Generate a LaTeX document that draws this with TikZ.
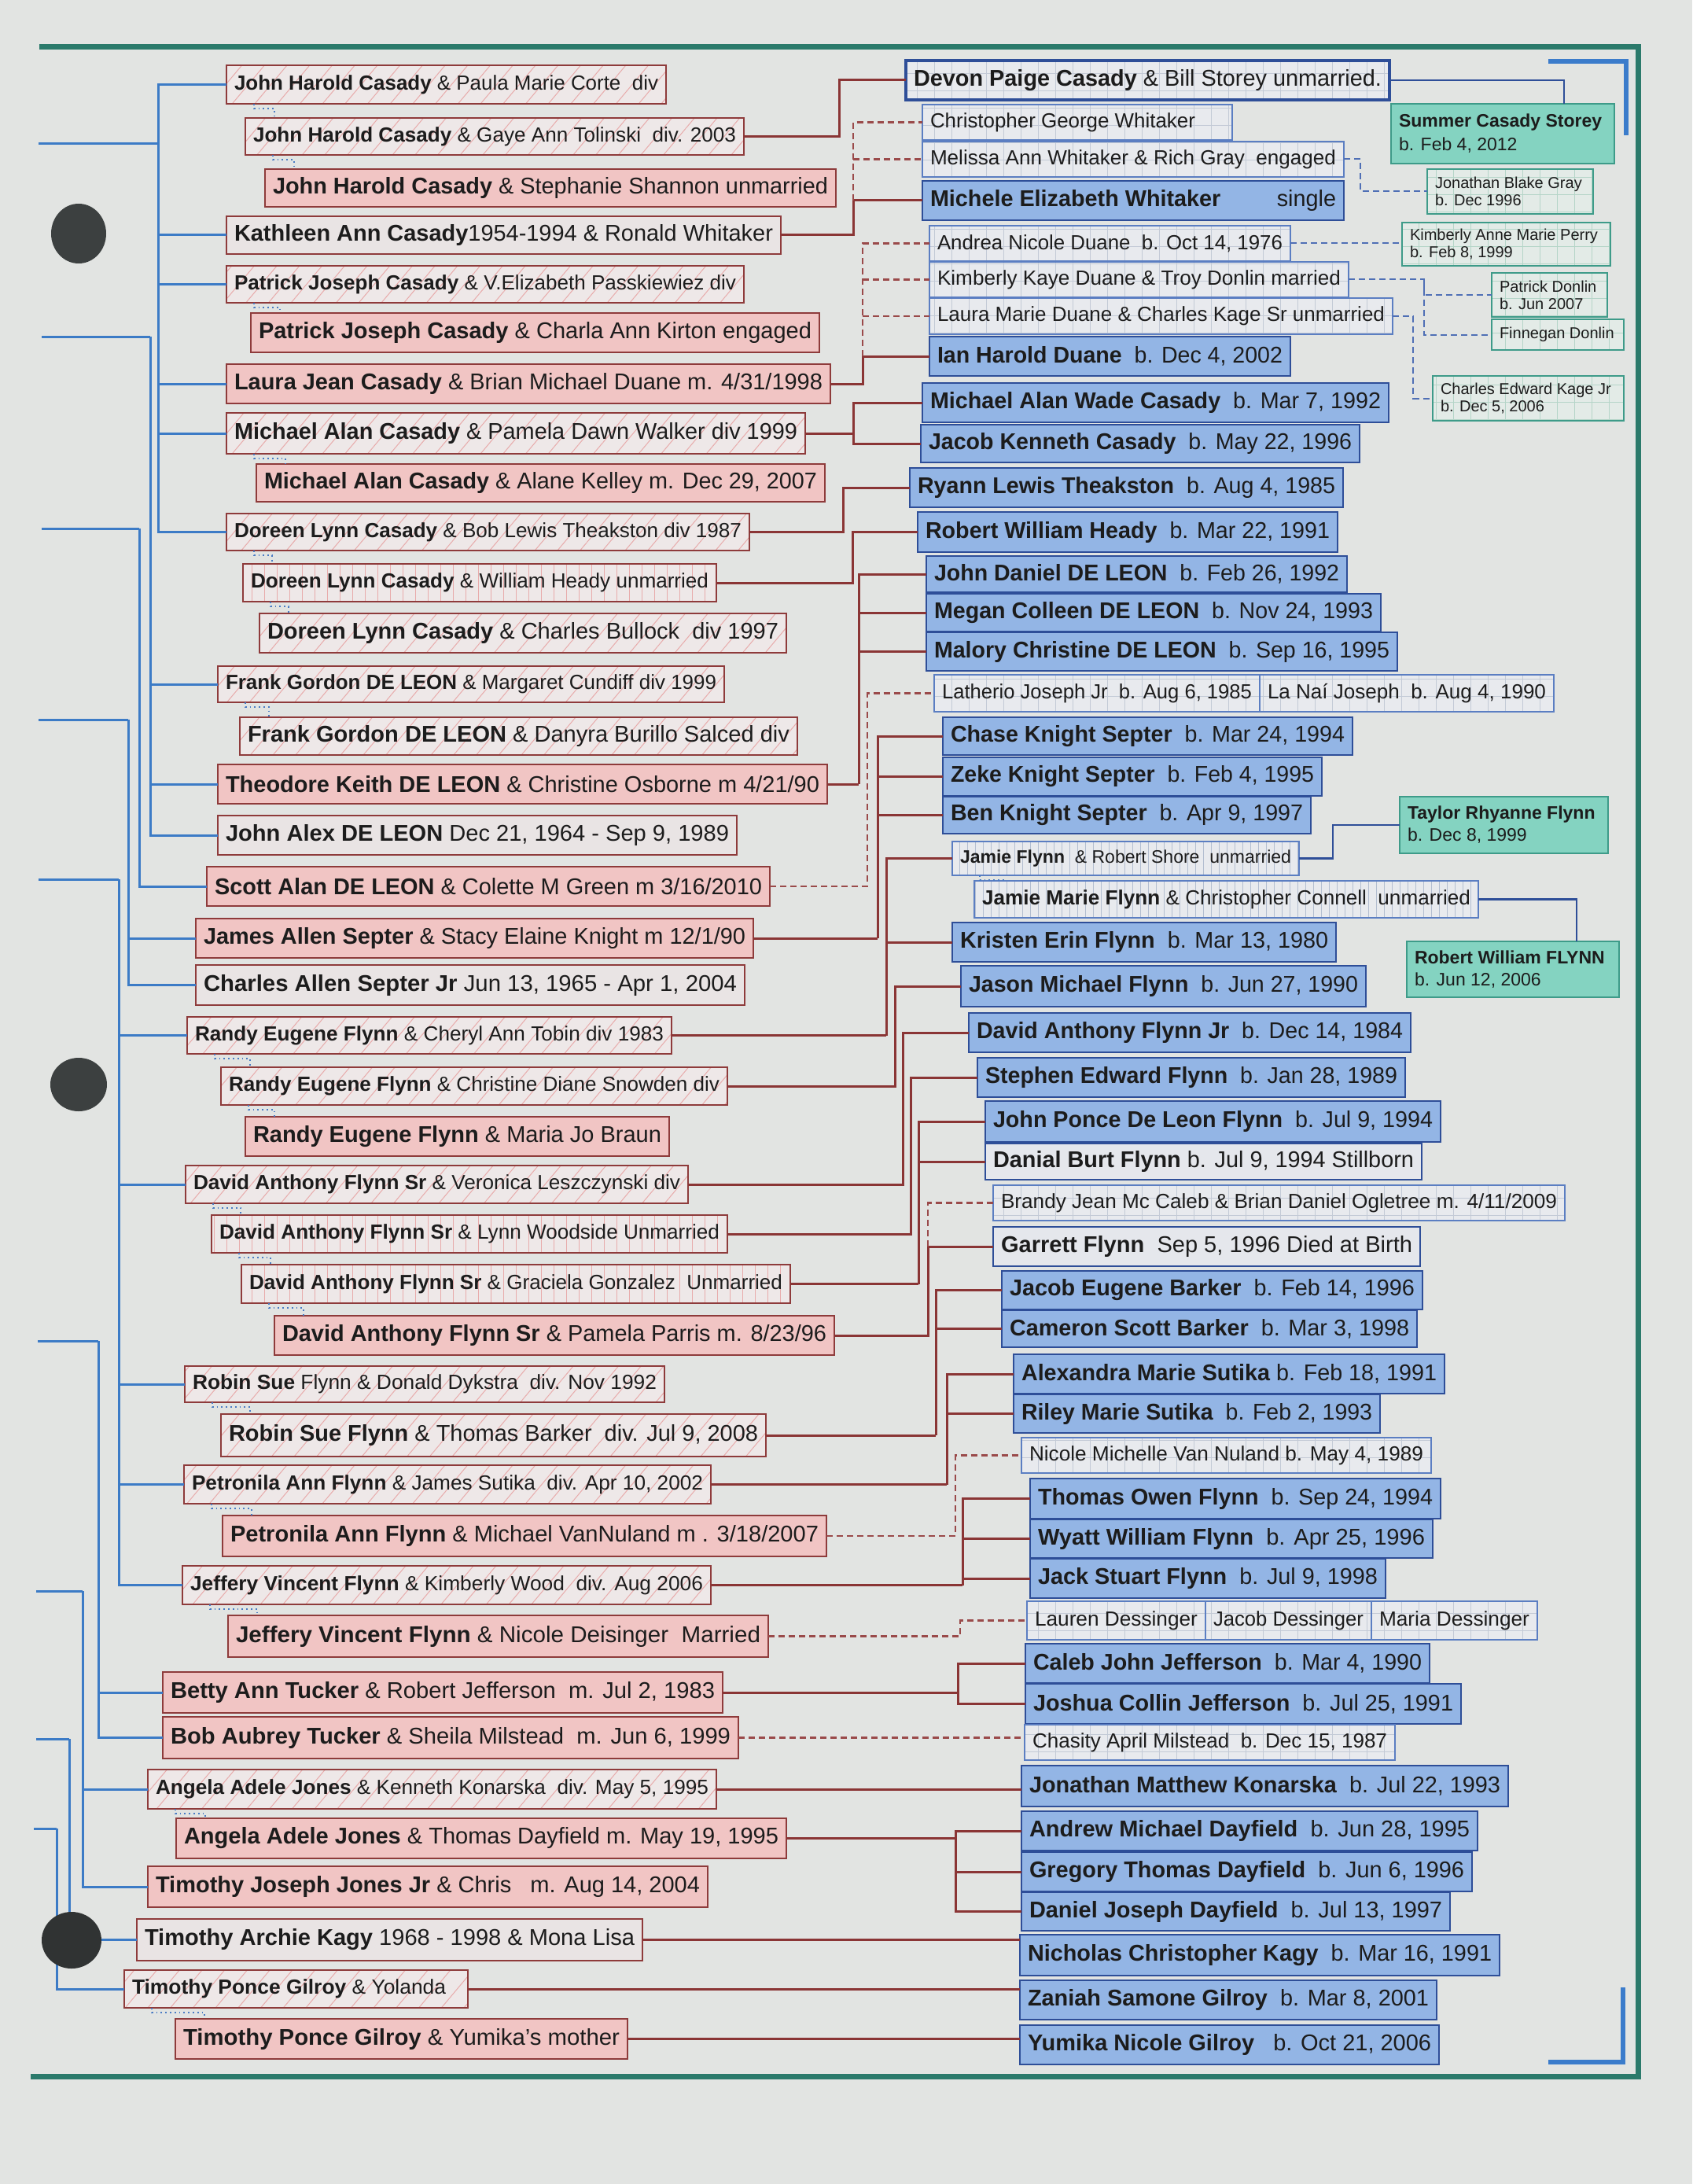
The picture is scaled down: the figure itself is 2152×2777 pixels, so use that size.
\documentclass[tikz,border=0pt]{standalone}
\usepackage{fontspec}
\setmainfont{Liberation Sans}
\usepackage{graphicx}
\usetikzlibrary{patterns.meta}
\definecolor{pagebg}{HTML}{E2E4E2}
\definecolor{framec}{HTML}{2B7A6B}
\definecolor{bracketc}{HTML}{3B7CCB}
\definecolor{treeblue}{HTML}{3C7BC6}
\definecolor{linered}{HTML}{8A3535}
\definecolor{dashred}{HTML}{9A4A4A}
\definecolor{boxred}{HTML}{8E3B3B}
\definecolor{hatchbg}{HTML}{EEE8E8}
\definecolor{hatchred}{HTML}{E8ABAB}
\definecolor{pinkfill}{HTML}{F1C5C4}
\definecolor{grayfill}{HTML}{E9E4E4}
\definecolor{bluefill}{HTML}{93B5E5}
\definecolor{blueborder}{HTML}{2E4E98}
\definecolor{lightfill}{HTML}{E5E7EC}
\definecolor{gridfill}{HTML}{E8EAEE}
\definecolor{gridline}{HTML}{C3CAD6}
\definecolor{gridborder}{HTML}{5B7EC2}
\definecolor{loopline}{HTML}{B3BED0}
\definecolor{greenfill}{HTML}{84D3C1}
\definecolor{greenborder}{HTML}{3E9B89}
\definecolor{ggfill}{HTML}{E3EBE7}
\definecolor{ggline}{HTML}{B5D5C8}
\definecolor{dashblue}{HTML}{4F6FB5}
\definecolor{dotblue}{HTML}{4A7CC4}
\definecolor{ink}{HTML}{1C1C1C}
\definecolor{holec}{HTML}{3C4040}
\newcommand\fLg{\fontsize{14.5pt}{16pt}\selectfont}
\newcommand\fSm{\fontsize{13pt}{15pt}\selectfont}
\newcommand\fTn{\fontsize{11.5pt}{13pt}\selectfont}
% name, style, x1, y1, x2, y2, right pad, font, text
\newcommand\famb[9]{%
  \node[#2, anchor=north west, minimum width={(#5-#3)*0.5pt}, minimum height={(#6-#4)*0.5pt}] (#1) at (#3,#4) {};
  \node[txt, anchor=west] (#1t) at ([xshift=5pt]#1.west) {\resizebox{\dimexpr(#5pt-#3pt-10pt-#7pt)/2\relax}{\height}{#8#9}};%
}
% name, style, x1, y1, x2, y2, font, text
\newcommand\grb[8]{%
  \node[#2, anchor=north west, minimum width={(#5-#3)*0.5pt}, minimum height={(#6-#4)*0.5pt}] (#1) at (#3,#4) {};
  \node[txt, anchor=west, align=left, font={#7}] (#1t) at ([xshift=5pt]#1.west) {#8};%
}
\newcommand\dotlink[2]{\draw[dotc] ([xshift=17.5pt]#1.south west) -- ++(0,6) -| ([xshift=18.5pt]#2.north west);}
\tikzset{
  basebox/.style={inner sep=0pt, outer sep=0pt},
  hatchbox/.style={basebox, draw=boxred, line width=1.1pt, preaction={fill=hatchbg}, pattern={Lines[angle=50,distance=11pt,line width=0.5pt]}, pattern color=hatchred},
  vhatchbox/.style={basebox, draw=boxred, line width=1.1pt, preaction={fill=hatchbg}, pattern={Lines[angle=90,distance=8pt,line width=0.5pt]}, pattern color=hatchred},
  pinkbox/.style={basebox, draw=boxred, line width=1.3pt, fill=pinkfill},
  greybox/.style={basebox, draw=boxred, line width=1.1pt, fill=grayfill},
  bluebox/.style={basebox, draw=blueborder, line width=1.4pt, fill=bluefill},
  lightbox/.style={basebox, draw=blueborder, line width=1.4pt, fill=lightfill},
  gridbox/.style={basebox, draw=gridborder, line width=0.8pt, preaction={fill=gridfill}, pattern={Hatch[angle=0,distance=11pt,line width=0.4pt]}, pattern color=gridline},
  devonbox/.style={basebox, draw=blueborder, line width=1.6pt, preaction={fill=gridfill}, pattern={Hatch[angle=0,distance=11pt,line width=0.4pt]}, pattern color=gridline},
  loopbox/.style={basebox, draw=gridborder, line width=0.9pt, preaction={fill=gridfill}, pattern={Lines[angle=90,distance=5pt,line width=0.4pt]}, pattern color=loopline},
  greenbox/.style={basebox, draw=greenborder, line width=1pt, fill=greenfill},
  greengrid/.style={basebox, draw=greenborder, line width=0.7pt, preaction={fill=ggfill}, pattern={Hatch[angle=0,distance=11pt,line width=0.4pt]}, pattern color=ggline},
  txt/.style={inner sep=0pt, outer sep=0pt, text=ink},
  bl/.style={draw=treeblue, line width=1.5pt},
  bl2/.style={draw=blueborder, line width=1.3pt},
  rl/.style={draw=linered, line width=1.5pt},
  rld/.style={draw=dashred, line width=1.2pt, dash pattern=on 4pt off 2.5pt},
  bld/.style={draw=dashblue, line width=1pt, dash pattern=on 4pt off 2.5pt},
  dotc/.style={draw=dotblue, line width=0.9pt, dotted},
  tealframe/.style={draw=framec, line width=3.5pt},
  bluebracket/.style={draw=bracketc, line width=2.6pt},
}
\begin{document}
\begin{tikzpicture}[x=0.5pt,y=-0.5pt]
\useasboundingbox (0,0) rectangle (2152,2777);
\fill[pagebg] (0,0) rectangle (2152,2777);
% frame
\draw[tealframe] (50,60) -- (2083,60) -- (2083,2640) -- (39,2640);
\draw[bluebracket] (1969,78) -- (2068,78) -- (2068,172);
\draw[bluebracket] (2064,2527) -- (2064,2622) -- (1969,2622);

% ---------- left boxes ----------
\famb{b1}{hatchbox}{288}{83}{847}{132}{10}{\fSm}{\textbf{John Harold Casady} \& Paula Marie Corte\ \ div}
\famb{b2}{hatchbox}{312}{150}{946}{197}{10}{\fSm}{\textbf{John Harold Casady} \& Gaye Ann Tolinski\ \ div. 2003}
\famb{b3}{pinkbox}{337}{215}{1063}{263}{10}{\fLg}{\textbf{John Harold Casady} \& Stephanie Shannon unmarried}
\famb{b4}{greybox}{288}{275}{993}{323}{10}{\fLg}{\textbf{Kathleen Ann Casady}1954-1994 \& Ronald Whitaker}
\famb{b5}{hatchbox}{288}{338}{946}{385}{10}{\fSm}{\textbf{Patrick Joseph Casady} \& V.Elizabeth Passkiewiez div}
\famb{b6}{pinkbox}{319}{398}{1042}{448}{10}{\fLg}{\textbf{Patrick Joseph Casady} \& Charla Ann Kirton engaged}
\famb{b7}{pinkbox}{288}{463}{1056}{513}{10}{\fLg}{\textbf{Laura Jean Casady} \& Brian Michael Duane m. 4/31/1998}
\famb{b8}{hatchbox}{288}{525}{1024}{577}{10}{\fLg}{\textbf{Michael Alan Casady} \& Pamela Dawn Walker div 1999}
\famb{b9}{pinkbox}{326}{590}{1049}{638}{10}{\fLg}{\textbf{Michael Alan Casady} \& Alane Kelley m. Dec 29, 2007}
\famb{b10}{hatchbox}{288}{653}{953}{700}{10}{\fSm}{\textbf{Doreen Lynn Casady} \& Bob Lewis Theakston div 1987}
\famb{b11}{vhatchbox}{309}{717}{911}{765}{10}{\fSm}{\textbf{Doreen Lynn Casady} \& William Heady unmarried}
\famb{b12}{hatchbox}{330}{780}{1000}{830}{10}{\fLg}{\textbf{Doreen Lynn Casady} \& Charles Bullock\ \ div 1997}
\famb{b13}{hatchbox}{277}{847}{921}{893}{10}{\fSm}{\textbf{Frank Gordon DE LEON} \& Margaret Cundiff div 1999}
\famb{b14}{hatchbox}{305}{912}{1014}{960}{10}{\fLg}{\textbf{Frank Gordon DE LEON} \& Danyra Burillo Salced div}
\famb{b15}{pinkbox}{277}{972}{1052}{1022}{10}{\fLg}{\textbf{Theodore Keith DE LEON} \& Christine Osborne m 4/21/90}
\famb{b16}{greybox}{277}{1037}{937}{1087}{10}{\fLg}{\textbf{John Alex DE LEON} Dec 21, 1964 - Sep 9, 1989}
\famb{b17}{pinkbox}{263}{1102}{979}{1152}{10}{\fLg}{\textbf{Scott Alan DE LEON} \& Colette M Green m 3/16/2010}
\famb{b18}{pinkbox}{249}{1168}{958}{1218}{10}{\fLg}{\textbf{James Allen Septer} \& Stacy Elaine Knight m 12/1/90}
\famb{b19}{greybox}{249}{1227}{947}{1278}{10}{\fLg}{\textbf{Charles Allen Septer Jr} Jun 13, 1965 - Apr 1, 2004}
\famb{b20}{hatchbox}{238}{1293}{854}{1340}{10}{\fSm}{\textbf{Randy Eugene Flynn} \& Cheryl Ann Tobin div 1983}
\famb{b21}{hatchbox}{281}{1357}{925}{1405}{10}{\fSm}{\textbf{Randy Eugene Flynn} \& Christine Diane Snowden div}
\famb{b22}{pinkbox}{312}{1420}{851}{1470}{10}{\fLg}{\textbf{Randy Eugene Flynn} \& Maria Jo Braun}
\famb{b23}{hatchbox}{236}{1482}{875}{1530}{10}{\fSm}{\textbf{David Anthony Flynn Sr} \& Veronica Leszczynski div}
\famb{b24}{vhatchbox}{269}{1545}{925}{1593}{10}{\fSm}{\textbf{David Anthony Flynn Sr} \& Lynn Woodside Unmarried}
\famb{b25}{vhatchbox}{307}{1608}{1005}{1657}{10}{\fSm}{\textbf{David Anthony Flynn Sr} \& Graciela Gonzalez\ \ Unmarried}
\famb{b26}{pinkbox}{349}{1673}{1061}{1723}{10}{\fLg}{\textbf{David Anthony Flynn Sr} \& Pamela Parris m. 8/23/96}
\famb{b27}{hatchbox}{235}{1737}{845}{1783}{10}{\fSm}{\textbf{Robin Sue} Flynn \& Donald Dykstra\ \ div. Nov 1992}
\famb{b28}{hatchbox}{281}{1798}{974}{1852}{10}{\fLg}{\textbf{Robin Sue Flynn} \& Thomas Barker\ \ div. Jul 9, 2008}
\famb{b29}{hatchbox}{234}{1863}{904}{1912}{10}{\fSm}{\textbf{Petronila Ann Flynn} \& James Sutika\ \ div. Apr 10, 2002}
\famb{b30}{pinkbox}{283}{1927}{1051}{1979}{10}{\fLg}{\textbf{Petronila Ann Flynn} \& Michael VanNuland m . 3/18/2007}
\famb{b31}{hatchbox}{232}{1991}{904}{2040}{10}{\fSm}{\textbf{Jeffery Vincent Flynn} \& Kimberly Wood\ \ div. Aug 2006}
\famb{b32}{pinkbox}{290}{2054}{977}{2107}{10}{\fLg}{\textbf{Jeffery Vincent Flynn} \& Nicole Deisinger\ \ Married}
\famb{b33}{pinkbox}{207}{2126}{919}{2178}{10}{\fLg}{\textbf{Betty Ann Tucker} \& Robert Jefferson\ \ m. Jul 2, 1983}
\famb{b34}{pinkbox}{207}{2183}{939}{2236}{10}{\fLg}{\textbf{Bob Aubrey Tucker} \& Sheila Milstead\ \ m. Jun 6, 1999}
\famb{b35}{hatchbox}{188}{2250}{911}{2300}{10}{\fSm}{\textbf{Angela Adele Jones} \& Kenneth Konarska\ \ div. May 5, 1995}
\famb{b36}{pinkbox}{224}{2312}{1000}{2363}{10}{\fLg}{\textbf{Angela Adele Jones} \& Thomas Dayfield m. May 19, 1995}
\famb{b37}{pinkbox}{188}{2373}{900}{2425}{10}{\fLg}{\textbf{Timothy Joseph Jones Jr} \& Chris\ \ \ m. Aug 14, 2004}
\famb{b38}{greybox}{174}{2440}{817}{2493}{10}{\fLg}{\textbf{Timothy Archie Kagy} 1968 - 1998 \& Mona Lisa}
\famb{b39}{hatchbox}{158}{2505}{595}{2553}{28}{\fSm}{\textbf{Timothy Ponce Gilroy} \& Yolanda}
\famb{b40}{pinkbox}{223}{2567}{798}{2618}{10}{\fLg}{\textbf{Timothy Ponce Gilroy} \& Yumika's mother}

% ---------- right boxes ----------
\famb{R1}{devonbox}{1152}{77}{1767}{127}{10}{\fLg}{\textbf{Devon Paige Casady} \& Bill Storey unmarried.}
\famb{R2}{gridbox}{1173}{133}{1567}{178}{47}{\fSm}{Christopher George Whitaker}
\famb{R3}{gridbox}{1173}{180}{1709}{225}{10}{\fSm}{Melissa Ann Whitaker \& Rich Gray\ \ engaged}
\famb{R4}{bluebox}{1173}{230}{1709}{280}{10}{\fLg}{\textbf{Michele Elizabeth Whitaker}\hspace{36pt}single}
\famb{R5}{gridbox}{1182}{287}{1641}{332}{10}{\fSm}{Andrea Nicole Duane\ \ b. Oct 14, 1976}
\famb{R6}{gridbox}{1182}{333}{1715}{378}{10}{\fSm}{Kimberly Kaye Duane \& Troy Donlin married}
\famb{R7}{gridbox}{1182}{379}{1771}{425}{10}{\fSm}{Laura Marie Duane \& Charles Kage Sr unmarried}
\famb{R8}{bluebox}{1182}{428}{1641}{478}{10}{\fLg}{\textbf{Ian Harold Duane}\ \ b. Dec 4, 2002}
\famb{R9}{bluebox}{1173}{487}{1766}{537}{10}{\fLg}{\textbf{Michael Alan Wade Casady}\ \ b. Mar 7, 1992}
\famb{R10}{bluebox}{1171}{540}{1729}{588}{10}{\fLg}{\textbf{Jacob Kenneth Casady}\ \ b. May 22, 1996}
\famb{R11}{bluebox}{1157}{595}{1708}{645}{10}{\fLg}{\textbf{Ryann Lewis Theakston}\ \ b. Aug 4, 1985}
\famb{R12}{bluebox}{1167}{651}{1701}{702}{10}{\fLg}{\textbf{Robert William Heady}\ \ b. Mar 22, 1991}
\famb{R13}{bluebox}{1178}{707}{1713}{753}{10}{\fLg}{\textbf{John Daniel DE LEON}\ \ b. Feb 26, 1992}
\famb{R14}{bluebox}{1178}{755}{1756}{803}{10}{\fLg}{\textbf{Megan Colleen DE LEON}\ \ b. Nov 24, 1993}
\famb{R15}{bluebox}{1178}{804}{1777}{853}{10}{\fLg}{\textbf{Malory Christine DE LEON}\ \ b. Sep 16, 1995}
\famb{R16a}{gridbox}{1188}{858}{1602}{905}{10}{\fSm}{Latherio Joseph Jr\ \ b. Aug 6, 1985}
\famb{R16b}{gridbox}{1602}{858}{1976}{905}{10}{\fSm}{La Naí Joseph\ \ b. Aug 4, 1990}
\famb{R17}{bluebox}{1199}{912}{1720}{960}{10}{\fLg}{\textbf{Chase Knight Septer}\ \ b. Mar 24, 1994}
\famb{R18}{bluebox}{1199}{963}{1681}{1012}{10}{\fLg}{\textbf{Zeke Knight Septer}\ \ b. Feb 4, 1995}
\famb{R19}{bluebox}{1199}{1013}{1667}{1060}{10}{\fLg}{\textbf{Ben Knight Septer}\ \ b. Apr 9, 1997}
\famb{R20}{loopbox}{1211}{1070}{1652}{1113}{10}{\fTn}{\textbf{Jamie Flynn}\ \ \& Robert Shore\ \ unmarried}
\famb{R21}{loopbox}{1239}{1120}{1880}{1167}{10}{\fSm}{\textbf{Jamie Marie Flynn} \& Christopher Connell\ \ unmarried}
\famb{R22}{bluebox}{1211}{1173}{1699}{1223}{10}{\fLg}{\textbf{Kristen Erin Flynn}\ \ b. Mar 13, 1980}
\famb{R23}{bluebox}{1222}{1228}{1737}{1280}{10}{\fLg}{\textbf{Jason Michael Flynn}\ \ b. Jun 27, 1990}
\famb{R24}{bluebox}{1232}{1288}{1794}{1338}{10}{\fLg}{\textbf{David Anthony Flynn Jr}\ \ b. Dec 14, 1984}
\famb{R25}{bluebox}{1243}{1345}{1787}{1395}{10}{\fLg}{\textbf{Stephen Edward Flynn}\ \ b. Jan 28, 1989}
\famb{R26}{bluebox}{1253}{1400}{1832}{1452}{10}{\fLg}{\textbf{John Ponce De Leon Flynn}\ \ b. Jul 9, 1994}
\famb{R27}{lightbox}{1253}{1454}{1808}{1500}{10}{\fLg}{\textbf{Danial Burt Flynn} b. Jul 9, 1994 Stillborn}
\famb{R28}{gridbox}{1263}{1507}{1990}{1552}{10}{\fSm}{Brandy Jean Mc Caleb \& Brian Daniel Ogletree m. 4/11/2009}
\famb{R29}{lightbox}{1263}{1560}{1806}{1610}{10}{\fLg}{\textbf{Garrett Flynn}\ \ Sep 5, 1996 Died at Birth}
\famb{R30}{bluebox}{1274}{1616}{1809}{1665}{10}{\fLg}{\textbf{Jacob Eugene Barker}\ \ b. Feb 14, 1996}
\famb{R31}{bluebox}{1274}{1666}{1802}{1713}{10}{\fLg}{\textbf{Cameron Scott Barker}\ \ b. Mar 3, 1998}
\famb{R32}{bluebox}{1289}{1722}{1837}{1772}{10}{\fLg}{\textbf{Alexandra Marie Sutika} b. Feb 18, 1991}
\famb{R33}{bluebox}{1289}{1773}{1755}{1822}{10}{\fLg}{\textbf{Riley Marie Sutika}\ \ b. Feb 2, 1993}
\famb{R34}{gridbox}{1299}{1828}{1820}{1873}{10}{\fSm}{Nicole Michelle Van Nuland b. May 4, 1989}
\famb{R35}{bluebox}{1310}{1880}{1832}{1931}{10}{\fLg}{\textbf{Thomas Owen Flynn}\ \ b. Sep 24, 1994}
\famb{R36}{bluebox}{1310}{1932}{1822}{1981}{10}{\fLg}{\textbf{Wyatt William Flynn}\ \ b. Apr 25, 1996}
\famb{R37}{bluebox}{1310}{1982}{1762}{2032}{10}{\fLg}{\textbf{Jack Stuart Flynn}\ \ b. Jul 9, 1998}
\famb{R38a}{gridbox}{1306}{2036}{1533}{2085}{10}{\fSm}{Lauren Dessinger}
\famb{R38b}{gridbox}{1533}{2036}{1744}{2085}{10}{\fSm}{Jacob Dessinger}
\famb{R38c}{gridbox}{1744}{2036}{1955}{2085}{10}{\fSm}{Maria Dessinger}
\famb{R39}{bluebox}{1304}{2090}{1818}{2140}{10}{\fLg}{\textbf{Caleb John Jefferson}\ \ b. Mar 4, 1990}
\famb{R40}{bluebox}{1304}{2141}{1858}{2192}{10}{\fLg}{\textbf{Joshua Collin Jefferson}\ \ b. Jul 25, 1991}
\famb{R41}{gridbox}{1303}{2193}{1774}{2238}{10}{\fSm}{Chasity April Milstead\ \ b. Dec 15, 1987}
\famb{R42}{bluebox}{1299}{2245}{1918}{2297}{10}{\fLg}{\textbf{Jonathan Matthew Konarska}\ \ b. Jul 22, 1993}
\famb{R43}{bluebox}{1299}{2303}{1879}{2353}{10}{\fLg}{\textbf{Andrew Michael Dayfield}\ \ b. Jun 28, 1995}
\famb{R44}{bluebox}{1299}{2355}{1872}{2405}{10}{\fLg}{\textbf{Gregory Thomas Dayfield}\ \ b. Jun 6, 1996}
\famb{R45}{bluebox}{1299}{2406}{1844}{2455}{10}{\fLg}{\textbf{Daniel Joseph Dayfield}\ \ b. Jul 13, 1997}
\famb{R46}{bluebox}{1297}{2460}{1907}{2512}{10}{\fLg}{\textbf{Nicholas Christopher Kagy}\ \ b. Mar 16, 1991}
\famb{R47}{bluebox}{1297}{2518}{1827}{2568}{10}{\fLg}{\textbf{Zaniah Samone Gilroy}\ \ b. Mar 8, 2001}
\famb{R48}{bluebox}{1297}{2575}{1830}{2625}{10}{\fLg}{\textbf{Yumika Nicole Gilroy}\ \ \ b. Oct 21, 2006}

% ---------- green boxes ----------
\grb{G1}{greenbox}{1769}{132}{2053}{208}{\fontsize{11.5pt}{15pt}\selectfont}{\textbf{Summer Casady Storey}\\b. Feb 4, 2012}
\grb{G2}{greengrid}{1815}{215}{2026}{272}{\fontsize{10pt}{11pt}\selectfont}{Jonathan Blake Gray\\b. Dec 1996}
\grb{G3}{greengrid}{1783}{283}{2048}{338}{\fontsize{10pt}{11pt}\selectfont}{Kimberly Anne Marie Perry\\b. Feb 8, 1999}
\grb{G4}{greengrid}{1897}{347}{2044}{403}{\fontsize{10pt}{11pt}\selectfont}{Patrick Donlin\\b. Jun 2007}
\grb{G5}{greengrid}{1897}{406}{2065}{445}{\fontsize{10pt}{11pt}\selectfont}{Finnegan Donlin}
\grb{G6}{greengrid}{1822}{478}{2065}{535}{\fontsize{10pt}{11pt}\selectfont}{Charles Edward Kage Jr\\b. Dec 5, 2006}
\grb{G7}{greenbox}{1780}{1013}{2045}{1085}{\fontsize{11.5pt}{14pt}\selectfont}{\textbf{Taylor Rhyanne Flynn}\\b. Dec 8, 1999}
\grb{G8}{greenbox}{1789}{1197}{2059}{1268}{\fontsize{11.5pt}{14pt}\selectfont}{\textbf{Robert William FLYNN}\\b. Jun 12, 2006}

% ---------- blue tree on the left ----------
\coordinate (inA) at (49,183);  \coordinate (tA) at (201,183);
\coordinate (inB) at (53,428);  \coordinate (tB) at (191,428);
\coordinate (inC) at (53,672);  \coordinate (tC) at (177,672);
\coordinate (inD) at (49,915);  \coordinate (tD) at (163,915);
\coordinate (inE) at (49,1118); \coordinate (tE) at (151,1118);
\coordinate (inF) at (48,1705); \coordinate (tF) at (125,1705);
\coordinate (inG) at (46,2023); \coordinate (tG) at (105,2023);
\coordinate (inH) at (46,2211); \coordinate (tH) at (88,2211);
\coordinate (inI) at (43,2325); \coordinate (tI) at (72,2325);
\draw[bl] (inA) -- (tA);
\foreach \c in {b1,b4,b5,b7,b8,b10} \draw[bl] (\c.west) -| (tA);
\draw[bl] (inB) -- (tB);
\foreach \c in {b13,b15,b16} \draw[bl] (\c.west) -| (tB);
\draw[bl] (inC) -- (tC);
\draw[bl] (b17.west) -| (tC);
\draw[bl] (inD) -- (tD);
\foreach \c in {b18,b19} \draw[bl] (\c.west) -| (tD);
\draw[bl] (inE) -- (tE);
\foreach \c in {b20,b23,b27,b29,b31} \draw[bl] (\c.west) -| (tE);
\draw[bl] (inF) -- (tF);
\foreach \c in {b33,b34} \draw[bl] (\c.west) -| (tF);
\draw[bl] (inG) -- (tG);
\foreach \c in {b35,b37} \draw[bl] (\c.west) -| (tG);
\draw[bl] (inH) -- (tH);
\draw[bl] (b38.west) -| (tH);
\draw[bl] (inI) -- (tI);
\draw[bl] (b39.west) -| (tI);

% dotted links between successive marriages
\dotlink{b1}{b2}
\dotlink{b2}{b3}
\dotlink{b5}{b6}
\dotlink{b8}{b9}
\dotlink{b10}{b11}
\dotlink{b11}{b12}
\dotlink{b13}{b14}
\dotlink{b20}{b21}
\dotlink{b21}{b22}
\dotlink{b23}{b24}
\dotlink{b24}{b25}
\dotlink{b25}{b26}
\dotlink{b27}{b28}
\dotlink{b29}{b30}
\dotlink{b31}{b32}
\dotlink{b35}{b36}
\dotlink{b39}{b40}
\dotlink{R20}{R21}

% ---------- red connectors ----------
\coordinate (xD) at (1067,0);  \coordinate (xK) at (1085,0);
\coordinate (xL) at (1097,0);  \coordinate (xM) at (1085,0);
\coordinate (xDB) at (1072,0); \coordinate (xDW) at (1084,0);
\coordinate (xT) at (1092,0);  \coordinate (xS) at (1103,0);
\coordinate (xJ) at (1116,0);  \coordinate (xRC) at (1127,0);
\coordinate (xRS) at (1138,0); \coordinate (xDV) at (1148,0);
\coordinate (xDL) at (1158,0); \coordinate (xDG) at (1168,0);
\coordinate (xDP) at (1180,0); \coordinate (xRT) at (1190,0);
\coordinate (xPJ) at (1204,0); \coordinate (xPM) at (1215,0);
\coordinate (xJK) at (1224,0); \coordinate (xJN) at (1221,0);
\coordinate (xB) at (1218,0);  \coordinate (xAT) at (1215,0);
\draw[rl] (b2.east) -- (b2.east -| xD) |- (R1.west);
\draw[rl] (b4.east) -- (b4.east -| xK) |- (R4.west);
\draw[rld] (R4.west -| xK) |- (R2.west);
\draw[rld] (R3.west -| xK) -- (R3.west);
\draw[rl] (b7.east) -- (b7.east -| xL) |- (R8.west);
\draw[rld] (R8.west -| xL) |- (R5.west);
\draw[rld] (R6.west -| xL) -- (R6.west);
\draw[rld] (R7.west -| xL) -- (R7.west);
\draw[rl] (b8.east) -- (b8.east -| xM);
\foreach \c in {R9,R10} \draw[rl] (\c.west) -| (b8.east -| xM);
\draw[rl] (b10.east) -- (b10.east -| xDB) |- (R11.west);
\draw[rl] (b11.east) -- (b11.east -| xDW) |- (R12.west);
\draw[rl] (b15.east) -- (b15.east -| xT);
\foreach \c in {R13,R14,R15} \draw[rl] (\c.west) -| (b15.east -| xT);
\draw[rld] (b17.east) -- (b17.east -| xS) |- (R16a.west);
\draw[rl] (b18.east) -- (b18.east -| xJ);
\foreach \c in {R17,R18,R19} \draw[rl] (\c.west) -| (b18.east -| xJ);
\draw[rl] (b20.east) -- (b20.east -| xRC);
\foreach \c in {R20,R22} \draw[rl] (\c.west) -| (b20.east -| xRC);
\draw[rl] (b21.east) -- (b21.east -| xRS) |- (R23.west);
\draw[rl] (b23.east) -- (b23.east -| xDV) |- (R24.west);
\draw[rl] (b24.east) -- (b24.east -| xDL) |- (R25.west);
\draw[rl] (b25.east) -- (b25.east -| xDG);
\foreach \c in {R26,R27} \draw[rl] (\c.west) -| (b25.east -| xDG);
\draw[rl] (b26.east) -- (b26.east -| xDP) |- (R29.west);
\draw[rld] (R29.west -| xDP) |- (R28.west);
\draw[rl] (b28.east) -- (b28.east -| xRT);
\foreach \c in {R30,R31} \draw[rl] (\c.west) -| (b28.east -| xRT);
\draw[rl] (b29.east) -- (b29.east -| xPJ);
\foreach \c in {R32,R33} \draw[rl] (\c.west) -| (b29.east -| xPJ);
\draw[rld] (b30.east) -- (b30.east -| xPM) |- (R34.west);
\draw[rl] (b31.east) -- (b31.east -| xJK);
\foreach \c in {R35,R36,R37} \draw[rl] (\c.west) -| (b31.east -| xJK);
\draw[rld] (b32.east) -- (b32.east -| xJN) |- (R38a.west);
\draw[rl] (b33.east) -- (b33.east -| xB);
\foreach \c in {R39,R40} \draw[rl] (\c.west) -| (b33.east -| xB);
\draw[rld] (b34.east) -- (b34.east -| R41.west);
\draw[rl] (b35.east) -- (b35.east -| R42.west);
\draw[rl] (b36.east) -- (b36.east -| xAT);
\foreach \c in {R43,R44,R45} \draw[rl] (\c.west) -| (b36.east -| xAT);
\draw[rl] (b38.east) -- (b38.east -| R46.west);
\draw[rl] (b39.east) -- (b39.east -| R47.west);
\draw[rl] (b40.east) -- (b40.east -| R48.west);

% ---------- connectors on the right ----------
\coordinate (xSum) at (1989,0); \coordinate (xMel) at (1730,0);
\coordinate (xKim) at (1811,0); \coordinate (xLM) at (1797,0);
\coordinate (xJF) at (1695,0);  \coordinate (xJM) at (2005,0);
\draw[bl2] (R1.east) -| (xSum |- G1.north);
\draw[bld] (R3.east) -- (R3.east -| xMel) |- (G2.west);
\draw[bld] (R5.east) -- (R5.east -| G3.west);
\draw[bld] (R6.east) -- (R6.east -| xKim) |- (G4.west);
\draw[bld] (R6.east -| xKim) |- (G5.west);
\draw[bld] (R7.east) -- (R7.east -| xLM) |- (G6.west);
\draw[bl2] (R20.east) -- (R20.east -| xJF) |- (G7.west);
\draw[bl2] (R21.east) -| (xJM |- G8.north);

% ---------- punched holes ----------
\fill[holec] (100,297) ellipse [x radius=17.5pt, y radius=19pt];
\fill[holec] (100,1379) ellipse [x radius=18pt, y radius=17pt];
\fill[holec!80!black] (91,2467) ellipse [x radius=19pt, y radius=18pt];
\end{tikzpicture}
\end{document}
